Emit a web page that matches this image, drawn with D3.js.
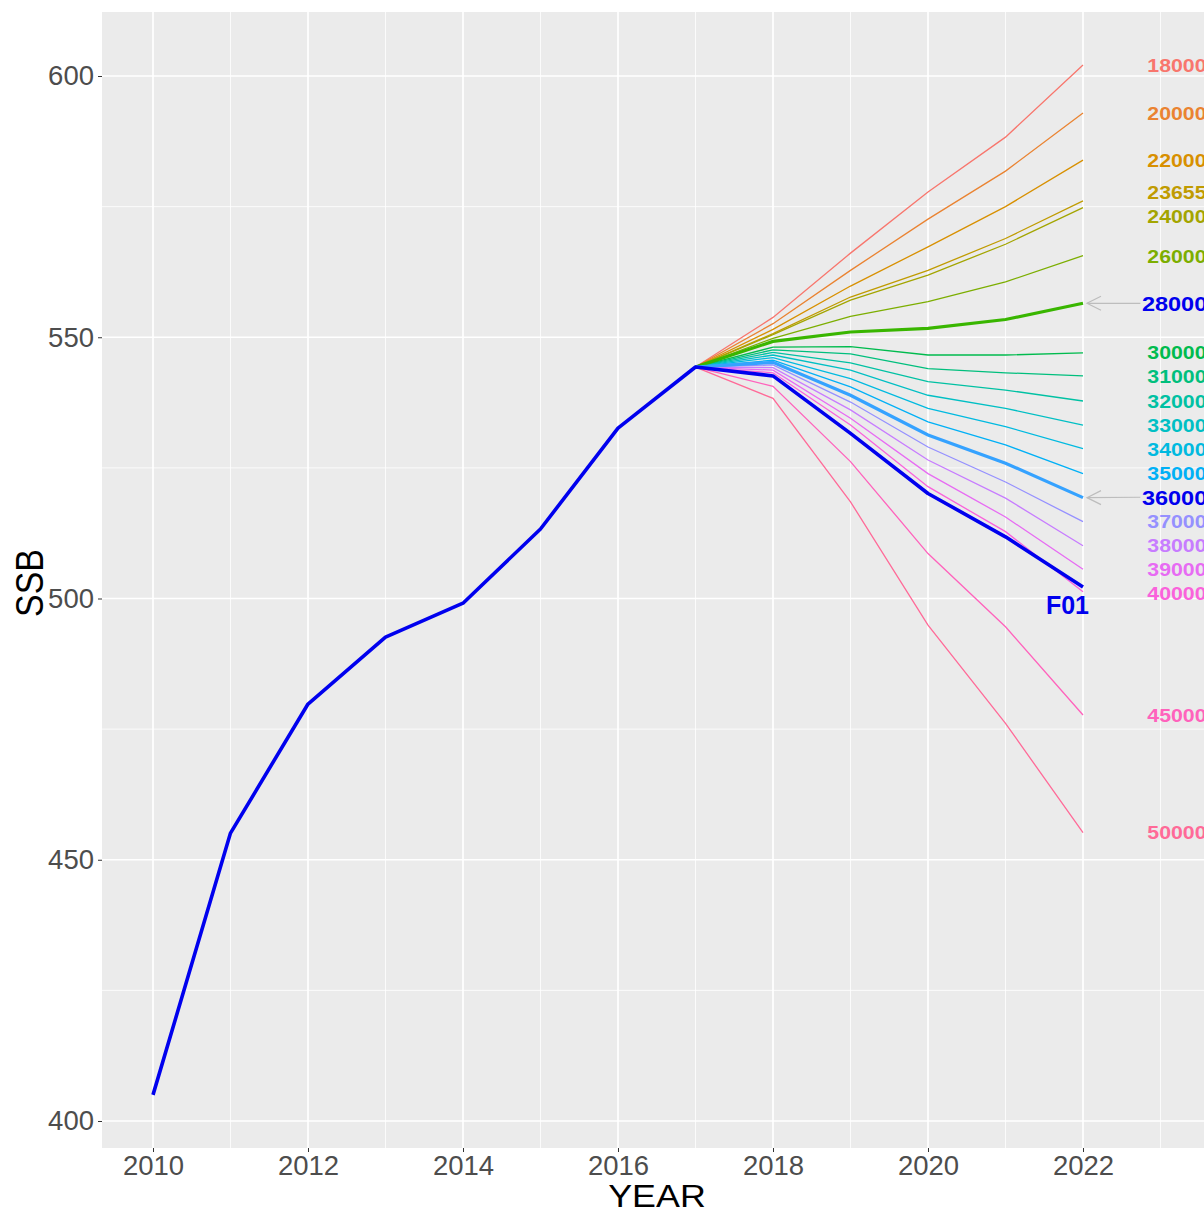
<!DOCTYPE html>
<html>
<head>
<meta charset="utf-8">
<script src="https://cdn.jsdelivr.net/npm/d3@7"></script>
<style>
  html, body { margin: 0; padding: 0; background: #ffffff; }
  svg { display: block; }
  text { font-family: "Liberation Sans", Arial, Helvetica, sans-serif; }
</style>
</head>
<body>
<svg id="chart" width="1204" height="1212"></svg>
<script>
// ---------------- DATA ----------------
const histYears = [2010, 2011, 2012, 2013, 2014, 2015, 2016, 2017, 2018, 2019, 2020, 2021, 2022];
const ssbF01 = [405.0, 455.1, 479.8, 492.6, 499.1, 513.3, 532.6, 544.3, 542.6, 531.6, 520.1, 511.8, 502.2];

const projYears = [2017, 2018, 2019, 2020, 2021, 2022];
const catchLabels = ["18000", "20000", "22000", "23655", "24000", "26000", "28000", "30000", "31000", "32000",
                     "33000", "34000", "35000", "36000", "37000", "38000", "39000", "40000", "45000", "50000"];
const ssb18000 = [544.3, 553.8, 566.1, 577.8, 588.3, 602.1];
const ssb20000 = [544.3, 552.6, 562.8, 572.6, 581.8, 592.9];
const ssb22000 = [544.3, 551.5, 559.8, 567.3, 575.0, 583.9];
const ssb23655 = [544.3, 550.7, 557.7, 562.8, 568.9, 576.1];
const ssb24000 = [544.3, 550.5, 557.1, 561.9, 567.8, 574.8];
const ssb26000 = [544.3, 549.8, 554.0, 556.8, 560.6, 565.6];
const ssb28000 = [544.3, 549.2, 551.0, 551.7, 553.4, 556.5];
const ssb30000 = [544.3, 548.1, 548.2, 546.6, 546.6, 547.0];
const ssb31000 = [544.3, 547.6, 546.8, 544.0, 543.2, 542.6];
const ssb32000 = [544.3, 547.1, 545.1, 541.5, 539.9, 537.8];
const ssb33000 = [544.3, 546.6, 543.7, 538.9, 536.4, 533.2];
const ssb34000 = [544.3, 546.1, 542.1, 536.4, 532.9, 528.7];
const ssb35000 = [544.3, 545.6, 540.5, 533.8, 529.4, 523.9];
const ssb36000 = [544.3, 545.2, 538.9, 531.3, 525.9, 519.3];
const ssb37000 = [544.3, 544.7, 537.6, 529.0, 522.3, 514.7];
const ssb38000 = [544.3, 544.2, 536.1, 526.5, 519.2, 510.1];
const ssb39000 = [544.3, 543.7, 534.5, 523.9, 515.6, 505.6];
const ssb40000 = [544.3, 543.2, 533.2, 521.4, 512.8, 501.3];
const ssb45000 = [544.3, 540.6, 526.2, 508.6, 494.6, 477.7];
const ssb50000 = [544.3, 538.3, 518.5, 494.9, 476.1, 455.2];
const projValues = [ssb18000, ssb20000, ssb22000, ssb23655, ssb24000, ssb26000, ssb28000, ssb30000, ssb31000, ssb32000,
                    ssb33000, ssb34000, ssb35000, ssb36000, ssb37000, ssb38000, ssb39000, ssb40000, ssb45000, ssb50000];
const highlighted = ["28000", "36000"];

const xTicks = [2010, 2012, 2014, 2016, 2018, 2020, 2022];
const xMinor = [2011, 2013, 2015, 2017, 2019, 2021, 2023];
const yTicks = [400, 450, 500, 550, 600];
const yMinor = [425, 475, 525, 575];

// ---------------- LAYOUT ----------------
const svg = d3.select("#chart");
const panel = { left: 102, top: 12, right: 1240, bottom: 1148 };

const x = d3.scaleLinear().domain([2010, 2022]).range([153, 1083]);
const y = d3.scaleLinear().domain([400, 600]).range([1121, 76]);

// ggplot-style hue palette (polar CIE-Luv, as R's hcl())
function hclLuv(h, c, l) {
  const Xn = 95.047, Yn = 100.0, Zn = 108.883;
  const den = Xn + 15 * Yn + 3 * Zn;
  const un = 4 * Xn / den, vn = 9 * Yn / den;
  const hr = h * Math.PI / 180;
  const U = c * Math.cos(hr), V = c * Math.sin(hr);
  const Y = Yn * (l > 8 ? Math.pow((l + 16) / 116, 3) : l / 903.3);
  const u = U / (13 * l) + un, v = V / (13 * l) + vn;
  const X = 9 * Y * u / (4 * v);
  const Z = -X / 3 - 5 * Y + 3 * Y / v;
  const xx = X / 100, yy = Y / 100, zz = Z / 100;
  const lin = [
    3.240479 * xx - 1.537150 * yy - 0.498535 * zz,
    -0.969256 * xx + 1.875992 * yy + 0.041556 * zz,
    0.055648 * xx - 0.204043 * yy + 1.057311 * zz
  ];
  const g = lin.map(t => {
    const s = t <= 0.0031308 ? 12.92 * t : 1.055 * Math.pow(t, 1 / 2.4) - 0.055;
    return Math.round(Math.max(0, Math.min(1, s)) * 255);
  });
  return d3.rgb(g[0], g[1], g[2]).formatHex();
}
const hueColor = i => hclLuv(15 + (360 / catchLabels.length) * i, 100, 65);
const color = d3.scaleOrdinal().domain(catchLabels).range(catchLabels.map((_, i) => hueColor(i)));

// panel background
svg.append("rect")
  .attr("x", panel.left).attr("y", panel.top)
  .attr("width", panel.right - panel.left).attr("height", panel.bottom - panel.top)
  .attr("fill", "#ebebeb");

const grid = svg.append("g");
grid.selectAll(".ymin").data(yMinor).join("line")
  .attr("x1", panel.left).attr("x2", panel.right)
  .attr("y1", d => y(d)).attr("y2", d => y(d))
  .attr("stroke", "#ffffff").attr("stroke-width", 0.8);
grid.selectAll(".xmin").data(xMinor).join("line")
  .attr("y1", panel.top).attr("y2", panel.bottom)
  .attr("x1", d => x(d)).attr("x2", d => x(d))
  .attr("stroke", "#ffffff").attr("stroke-width", 0.8);
grid.selectAll(".ymaj").data(yTicks).join("line")
  .attr("x1", panel.left).attr("x2", panel.right)
  .attr("y1", d => y(d)).attr("y2", d => y(d))
  .attr("stroke", "#ffffff").attr("stroke-width", 1.7);
grid.selectAll(".xmaj").data(xTicks).join("line")
  .attr("y1", panel.top).attr("y2", panel.bottom)
  .attr("x1", d => x(d)).attr("x2", d => x(d))
  .attr("stroke", "#ffffff").attr("stroke-width", 1.7);

// axes
const yAxis = d3.axisLeft(y).tickValues(yTicks).tickSize(4).tickPadding(4);
const gy = svg.append("g").attr("transform", `translate(${panel.left},0)`).call(yAxis);
gy.select(".domain").remove();
gy.selectAll(".tick line").attr("stroke", "#333333").attr("stroke-width", 1);
gy.selectAll(".tick text").attr("fill", "#4d4d4d").attr("font-size", 27.5)
  .attr("font-family", "Liberation Sans, Arial, sans-serif");

const xAxis = d3.axisBottom(x).tickValues(xTicks).tickFormat(d3.format("d")).tickSize(4).tickPadding(3);
const gx = svg.append("g").attr("transform", `translate(0,${panel.bottom})`).call(xAxis);
gx.select(".domain").remove();
gx.selectAll(".tick line").attr("stroke", "#333333").attr("stroke-width", 1);
gx.selectAll(".tick text").attr("fill", "#4d4d4d").attr("font-size", 27.5)
  .attr("font-family", "Liberation Sans, Arial, sans-serif");

// titles
svg.append("text").attr("transform", "translate(657,1207) scale(1.12,1)").attr("text-anchor", "middle")
  .attr("font-size", 32).attr("fill", "#000").text("YEAR");
svg.append("text").attr("transform", "translate(43,583) rotate(-90) scale(1,1.15)").attr("text-anchor", "middle")
  .attr("font-size", 34).attr("fill", "#000").text("SSB");

// ---------------- LINES ----------------
const line = d3.line().x(d => x(d[0])).y(d => y(d[1]));
const series = catchLabels.map((c, i) => ({
  key: c,
  pts: projYears.map((yr, j) => [yr, projValues[i][j]]),
  hi: highlighted.includes(c)
}));

const lines = svg.append("g");
lines.selectAll(".thin").data(series.filter(s => !s.hi)).join("path")
  .attr("d", s => line(s.pts)).attr("fill", "none")
  .attr("stroke", s => color(s.key)).attr("stroke-width", 1.3);
lines.selectAll(".thick").data(series.filter(s => s.hi)).join("path")
  .attr("d", s => line(s.pts)).attr("fill", "none")
  .attr("stroke", s => color(s.key)).attr("stroke-width", 3.2);
lines.append("path")
  .attr("d", line(histYears.map((yr, i) => [yr, ssbF01[i]])))
  .attr("fill", "none").attr("stroke", "#0000ee").attr("stroke-width", 3.6)
  .attr("stroke-linejoin", "round");

// ---------------- LABELS (simple repel) ----------------
const labs = series.map(s => ({ key: s.key, hi: s.hi, y0: y(s.pts[s.pts.length - 1][1]) }));
labs.forEach(l => l.y = l.y0);
labs.sort((a, b) => a.y0 - b.y0);
const minGap = 24;
for (let it = 0; it < 200; it++) {
  for (let k = 0; k < labs.length - 1; k++) {
    const a = labs[k], b = labs[k + 1];
    const d = b.y - a.y;
    if (d < minGap) {
      const push = (minGap - d) / 2;
      a.y -= push; b.y += push;
    }
  }
}

const labelG = svg.append("g");
// arrows for highlighted labels
labs.filter(l => l.hi).forEach(l => {
  const xe = x(2022) + 4, xs = x(2022.74);
  labelG.append("line").attr("x1", xs).attr("x2", xe).attr("y1", l.y).attr("y2", l.y0)
    .attr("stroke", "#bdbdbd").attr("stroke-width", 1.2);
  labelG.append("path")
    .attr("d", `M${xe + 14},${l.y0 - 7}L${xe},${l.y0}L${xe + 14},${l.y0 + 7}`)
    .attr("fill", "none").attr("stroke", "#bdbdbd").attr("stroke-width", 1.2);
});
labelG.selectAll("text").data(labs).join("text")
  .attr("transform", l => `translate(${l.hi ? x(2022.76) : x(2022.83)},${l.y}) scale(1.12,1)`)
  .attr("dy", "0.36em")
  .attr("font-size", l => l.hi ? 21 : 19)
  .attr("font-weight", "bold")
  .attr("fill", l => l.hi ? "#0000ee" : color(l.key))
  .text(l => l.key);

// F01 label
svg.append("text").attr("x", x(2022) + 6).attr("y", y(ssbF01[ssbF01.length - 1]) + 27)
  .attr("text-anchor", "end").attr("font-size", 25).attr("font-weight", "bold")
  .attr("fill", "#0000ee").text("F01");
</script>
</body>
</html>
